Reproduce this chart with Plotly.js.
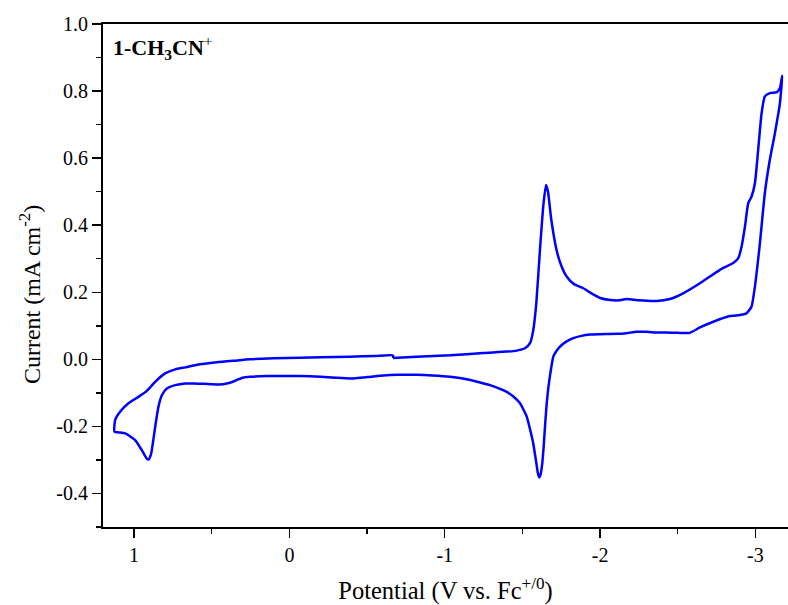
<!DOCTYPE html>
<html>
<head>
<meta charset="utf-8">
<script src="https://cdn.plot.ly/plotly-3.0.1.min.js"></script>
<style>html,body{margin:0;padding:0;background:#fff;}#chart{width:788px;height:605px;}</style>
</head>
<body>
<div id="chart"></div>
<script>
// Forward (cathodic) scan: from -0.67 V to -3.17 V
const potentialForward = [-0.667,-0.82,-1.034,-1.249,-1.40,-1.463,-1.517,-1.549,-1.570,-1.59,-1.613,-1.635,-1.652,-1.665,-1.685,-1.72,-1.75,-1.785,-1.83,-1.892,-1.95,-2.0,-2.064,-2.12,-2.171,-2.25,-2.364,-2.45,-2.535,-2.643,-2.772,-2.857,-2.889,-2.911,-2.933,-2.954,-2.975,-2.997,-3.018,-3.040,-3.061,-3.093,-3.136,-3.158,-3.173];
const currentForward   = [0.004,0.008,0.012,0.019,0.023,0.026,0.033,0.048,0.087,0.17,0.326,0.46,0.520,0.50,0.42,0.326,0.28,0.247,0.225,0.212,0.195,0.183,0.177,0.176,0.180,0.176,0.174,0.180,0.197,0.227,0.267,0.287,0.301,0.336,0.396,0.466,0.485,0.525,0.625,0.734,0.784,0.794,0.796,0.809,0.846];
// Reverse (anodic) scan: from -3.17 V to +1.13 V
const potentialReverse = [-3.158,-3.126,-3.093,-3.061,-3.029,-2.997,-2.975,-2.943,-2.90,-2.836,-2.729,-2.643,-2.578,-2.5,-2.42,-2.364,-2.30,-2.235,-2.17,-2.107,-2.0,-1.935,-1.88,-1.828,-1.78,-1.742,-1.715,-1.699,-1.688,-1.678,-1.667,-1.657,-1.647,-1.637,-1.627,-1.617,-1.609,-1.600,-1.59,-1.580,-1.570,-1.55,-1.528,-1.505,-1.485,-1.44,-1.399,-1.34,-1.292,-1.227,-1.15,-1.034,-0.92,-0.82,-0.7,-0.605,-0.5,-0.391,-0.3,-0.2,-0.069,0.145,0.25,0.296,0.33,0.36,0.403,0.45,0.55,0.618,0.671,0.735,0.789,0.821,0.843,0.864,0.890,0.907,0.918,0.950,0.993,1.057,1.10,1.126];
const currentReverse   = [0.764,0.675,0.595,0.496,0.346,0.217,0.157,0.137,0.132,0.129,0.112,0.095,0.079,0.079,0.080,0.080,0.082,0.082,0.078,0.076,0.075,0.074,0.070,0.063,0.052,0.038,0.022,0.008,-0.018,-0.048,-0.085,-0.13,-0.19,-0.26,-0.315,-0.343,-0.352,-0.34,-0.31,-0.28,-0.251,-0.21,-0.171,-0.148,-0.131,-0.11,-0.097,-0.085,-0.077,-0.069,-0.060,-0.052,-0.048,-0.046,-0.046,-0.048,-0.053,-0.057,-0.055,-0.052,-0.050,-0.050,-0.052,-0.054,-0.060,-0.066,-0.072,-0.075,-0.073,-0.072,-0.072,-0.077,-0.087,-0.107,-0.141,-0.201,-0.281,-0.299,-0.296,-0.271,-0.241,-0.221,-0.218,-0.216];
// Return (cathodic) scan: from +1.13 V back to -0.67 V
const potentialReturn = [1.122,1.090,1.036,0.972,0.918,0.864,0.800,0.735,0.671,0.6,0.467,0.35,0.253,0.1,-0.069,-0.2,-0.391,-0.55,-0.667,-0.668];
const currentReturn   = [-0.181,-0.156,-0.131,-0.112,-0.094,-0.067,-0.042,-0.030,-0.024,-0.017,-0.009,-0.004,0.0,0.003,0.005,0.006,0.008,0.010,0.012,0.004];

const xTickVals = [1, 0, -1, -2, -3];
const xTickText = ['1', '0', '-1', '-2', '-3'];
const yTickVals = [-0.4, -0.2, 0.0, 0.2, 0.4, 0.6, 0.8, 1.0];
const yTickText = ['-0.4', '-0.2', '0.0', '0.2', '0.4', '0.6', '0.8', '1.0'];

const x = potentialForward.concat(potentialReverse, potentialReturn);
const y = currentForward.concat(currentReverse, currentReturn);

const font = 'Liberation Serif, Times New Roman, serif';
const trace = {
  x: x, y: y, type: 'scatter', mode: 'lines',
  line: {color: '#0000FF', width: 2.5, shape: 'spline', smoothing: 0.5},
  hoverinfo: 'x+y', showlegend: false
};
const layout = {
  width: 788, height: 605,
  margin: {l: 103, r: 0, t: 24, b: 78},
  paper_bgcolor: '#ffffff', plot_bgcolor: '#ffffff',
  font: {family: font, color: '#000', size: 20},
  xaxis: {
    range: [1.2, -3.21], showgrid: false, zeroline: false,
    showline: true, linecolor: '#000', linewidth: 2, mirror: true,
    ticks: 'outside', ticklen: 9, tickwidth: 1.5, tickcolor: '#000',
    tickvals: xTickVals, ticktext: xTickText,
    tickfont: {family: font, size: 20, color: '#000'},
    minor: {dtick: 0.5, tick0: 0, ticks: 'outside', ticklen: 5, tickwidth: 1.5, tickcolor: '#000', showgrid: false},
    title: {text: 'Potential (V vs. Fc<sup>+/0</sup>)', font: {family: font, size: 24.5, color: '#000'}, standoff: 18}
  },
  yaxis: {
    range: [-0.5, 1.0], showgrid: false, zeroline: false,
    showline: true, linecolor: '#000', linewidth: 2, mirror: false,
    ticks: 'outside', ticklen: 9, tickwidth: 1.5, tickcolor: '#000',
    tickvals: yTickVals, ticktext: yTickText,
    tickfont: {family: font, size: 20, color: '#000'},
    minor: {dtick: 0.1, tick0: 0, ticks: 'outside', ticklen: 5, tickwidth: 1.5, tickcolor: '#000', showgrid: false}
  },
  annotations: [{
    text: '<b>1-CH<sub>3</sub>CN</b><sup>+</sup>',
    xref: 'paper', yref: 'paper', x: 0.011, y: 0.988,
    xanchor: 'left', yanchor: 'top', showarrow: false,
    font: {family: font, size: 22, color: '#000'}
  }, {
    text: 'Current (mA cm<sup>-2</sup>)',
    xref: 'paper', yref: 'paper', x: -0.1066, y: 0.463,
    xanchor: 'center', yanchor: 'middle', textangle: -90, showarrow: false,
    font: {family: font, size: 24, color: '#000'}
  }]
};
Plotly.newPlot('chart', [trace], layout, {displayModeBar: false, staticPlot: true});
</script>
</body>
</html>
